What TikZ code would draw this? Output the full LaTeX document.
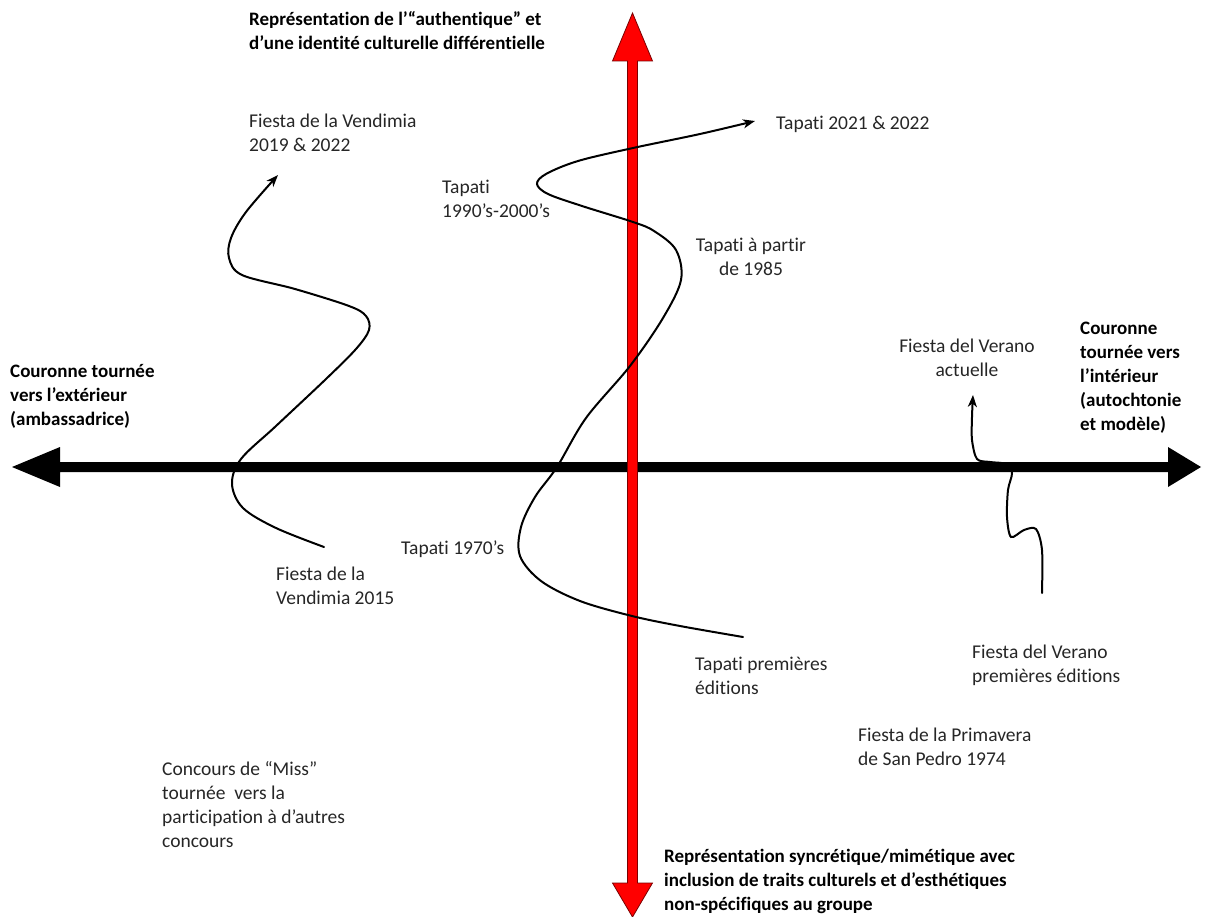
\documentclass[tikz,border=0pt]{standalone}
\usepackage{fontspec}
\setmainfont{Carlito}[Ligatures=NoCommon]
\usetikzlibrary{arrows.meta}
\definecolor{axred}{HTML}{FF0000}
\definecolor{axredline}{HTML}{7A0000}
\definecolor{txt}{HTML}{262626}
\begin{document}
\begin{tikzpicture}[x=1pt,y=-1pt,
  lbl/.style={anchor=base west, align=left, inner sep=0pt, text=txt, font=\fontsize{19.5}{24}\selectfont},
  clbl/.style={lbl, anchor=base, align=center},
  blbl/.style={lbl, text=black, font=\fontsize{19}{24}\selectfont\bfseries},
  trend/.style={line width=2pt, line cap=round, -{Stealth[length=12pt,width=9pt,inset=3.5pt]}},
  blackaxis/.style={fill=black, draw=none},
  redaxis/.style={fill=axred, draw=axredline, line width=0.8pt, line join=miter}]
\useasboundingbox (0,0) rectangle (1205,917);

% horizontal black axis
\coordinate (hl) at (12,467);
\coordinate (hr) at (1201,467);
\fill[blackaxis] (hl) -- (60,447) -- (60,462) -- (1168,462) -- (1168,447) -- (hr) -- (1168,487) -- (1168,472) -- (60,472) -- (60,487) -- cycle;

% vertical red axis
\coordinate (vt) at (632.5,13);
\coordinate (vb) at (632.5,917);
\draw[redaxis] (vt) -- (652.5,61) -- (637.5,61) -- (637.5,883) -- (652.5,883) -- (vb) -- (612.5,883) -- (627.5,883) -- (627.5,61) -- (612.5,61) -- cycle;

% labels (base anchor = baseline of the last line)
\node[blbl] (top) at (249,50) {Représentation de l’“authentique” et\\d’une identité culturelle différentielle};
\node[blbl] (bottom) at (664,910) {Représentation syncrétique/mimétique avec\\inclusion de traits culturels et d’esthétiques\\non-spécifiques au groupe};
\node[blbl] (left) at (10,425) {Couronne tournée\\vers l’extérieur\\(ambassadrice)};
\node[blbl] (right) at (1080,430) {Couronne\\tournée vers\\l’intérieur\\(autochtonie\\et modèle)};

\node[lbl] (v1922) at (249,152) {Fiesta de la Vendimia\\2019 \& 2022};
\node[lbl] (t2122) at (776,130) {Tapati 2021 \& 2022};
\node[lbl] (t9000) at (442,218) {Tapati\\1990’s-2000’s};
\node[clbl] (t1985) at (751,276) {Tapati à partir\\de 1985};
\node[clbl] (vact) at (967,376) {Fiesta del Verano\\actuelle};
\node[lbl] (t1970) at (401,554) {Tapati 1970’s};
\node[lbl] (v2015) at (276,604) {Fiesta de la\\Vendimia 2015};
\node[lbl] (tprem) at (695,694) {Tapati premières\\éditions};
\node[lbl] (vprem) at (972,682) {Fiesta del Verano\\premières éditions};
\node[lbl] (prim) at (858,765) {Fiesta de la Primavera\\de San Pedro 1974};
\node[lbl] (miss) at (162,847) {Concours de “Miss”\\tournée~ vers la\\participation à d’autres\\concours};

% trajectories
\coordinate (vendS) at (324,547);
\coordinate (vendE) at (278,175);
\draw[trend] plot[smooth, tension=0.55] coordinates {(vendS) (276,528) (243,508) (232,484) (241,459) (276,426) (326,379) (356,349) (369,330) (366,316) (349,306) (295,289) (242,275) (229,258) (231,238) (246,212) (vendE)};

\coordinate (tapS) at (743,637);
\coordinate (tapE) at (755,121);
\draw[trend] plot[smooth, tension=0.55] coordinates {(tapS) (680,626) (632,616) (580,601) (541,581) (520,556) (521,527) (535,497) (557,467) (586,418) (630,366) (663,318) (681,280) (676,250) (654,231) (633,222) (582,206) (548,194) (537,184) (546,174) (578,161) (633,148) (700,134) (tapE)};

\coordinate (verS) at (1042,593);
\coordinate (verE) at (973,395);
\draw[trend] plot[smooth, tension=0.5] coordinates {(verS) (1042,550) (1036,529) (1024,530) (1011,537) (1007,517) (1008,490) (1012,473) (1006,464) (990,462) (977,459) (972,440) (972,417) (verE)};
\end{tikzpicture}
\end{document}
